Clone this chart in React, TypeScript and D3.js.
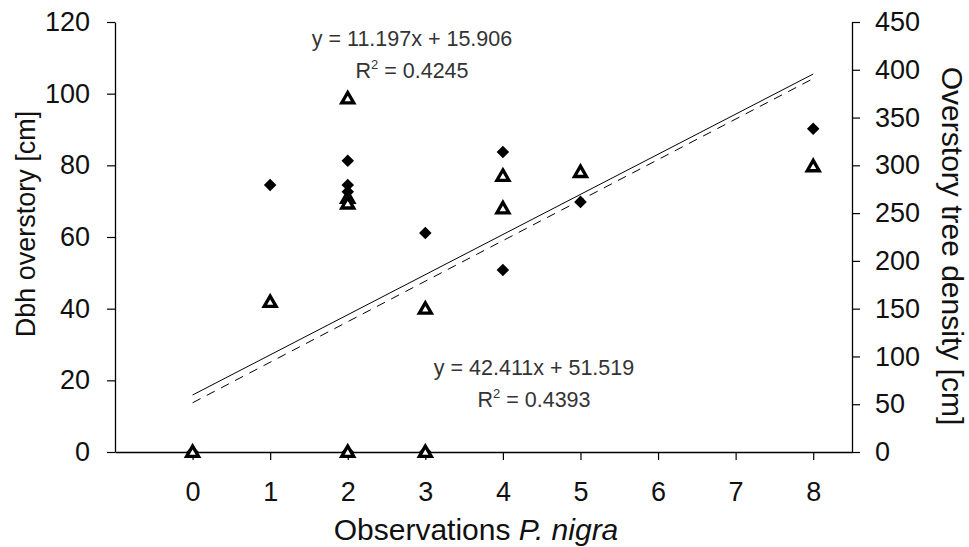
import * as React from 'react';
import { useEffect, useRef } from 'react';
import * as d3 from 'd3';

// observations of P. nigra (x) vs dbh (left axis) and tree density (right axis)
const dbhX = [0, 1, 2, 2, 2, 2, 3, 3, 4, 4, 5, 8];
const dbhY = [0, 74.5, 81.3, 74.5, 72.6, 0, 61.1, 0, 83.7, 50.8, 69.8, 90.2];
const densX = [0, 1, 2, 2, 2, 2, 3, 3, 4, 4, 5, 8];
const densY = [0, 157, 370, 266, 260, 0, 150, 0, 289, 255, 293, 299];

const xTicks = [0, 1, 2, 3, 4, 5, 6, 7, 8];
const leftTicks = [0, 20, 40, 60, 80, 100, 120];
const rightTicks = [0, 50, 100, 150, 200, 250, 300, 350, 400, 450];

const dbhFit = { slope: 11.197, intercept: 15.906, r2: '0.4245' };
const densFit = { slope: 42.411, intercept: 51.519, r2: '0.4393' };
const fitRange = [0, 8];

const W = 969;
const H = 547;
const FONT = 'Liberation Sans, Arial, sans-serif';

export default function App() {
  const ref = useRef<SVGSVGElement>(null);

  useEffect(() => {
    const svg = d3.select(ref.current);
    svg.selectAll('*').remove();

    const x = d3.scaleLinear().domain([-1, 8.5]).range([115, 852]);
    const yL = d3.scaleLinear().domain([0, 120]).range([452, 22]);
    const yR = d3.scaleLinear().domain([0, 450]).range([452, 22]);

    const styleAxis = (g: any) => {
      g.selectAll('path').attr('stroke', '#000').attr('stroke-width', 1.3);
      g.selectAll('line').attr('stroke', '#000').attr('stroke-width', 1.2);
      g.selectAll('text')
        .attr('font-family', FONT)
        .attr('font-size', 27)
        .attr('fill', '#111');
    };

    svg.append('g')
      .attr('transform', 'translate(0,452)')
      .call(d3.axisBottom(x).tickValues(xTicks).tickSize(8).tickSizeOuter(0).tickPadding(22).tickFormat(d3.format('d')))
      .call(styleAxis);

    svg.append('g')
      .attr('transform', 'translate(115,0)')
      .call(d3.axisLeft(yL).tickValues(leftTicks).tickSize(8).tickSizeOuter(0).tickPadding(17))
      .call(styleAxis);

    svg.append('g')
      .attr('transform', 'translate(852,0)')
      .call(d3.axisRight(yR).tickValues(rightTicks).tickSize(8).tickSizeOuter(0).tickPadding(15))
      .call(styleAxis);

    // trend lines
    const line = (fit: typeof dbhFit, y: d3.ScaleLinear<number, number>) =>
      d3.line<number>()
        .x((d) => x(d))
        .y((d) => y(fit.slope * d + fit.intercept))(fitRange);

    svg.append('path')
      .attr('d', line(dbhFit, yL))
      .attr('fill', 'none')
      .attr('stroke', '#000')
      .attr('stroke-width', 1);

    svg.append('path')
      .attr('d', line(densFit, yR))
      .attr('fill', 'none')
      .attr('stroke', '#000')
      .attr('stroke-width', 1)
      .attr('stroke-dasharray', '9,7');

    // diamonds
    const diamond = d3.symbol().type(d3.symbolDiamond2).size(100);
    svg.append('g')
      .selectAll('path')
      .data(dbhX.map((d, i) => [d, dbhY[i]]))
      .join('path')
      .attr('d', diamond)
      .attr('transform', (d) => `translate(${x(d[0])},${yL(d[1])})`)
      .attr('fill', '#000');

    // triangles
    const tri = d3.symbol().type(d3.symbolTriangle).size(62);
    svg.append('g')
      .selectAll('path')
      .data(densX.map((d, i) => [d, densY[i]]))
      .join('path')
      .attr('d', tri)
      .attr('transform', (d) => `translate(${x(d[0])},${yR(d[1]) + 1})`)
      .attr('fill', '#fff')
      .attr('stroke', '#000')
      .attr('stroke-width', 3.3)
      .attr('stroke-linejoin', 'miter');

    // equations
    const eq = (cx: number, cy: number, fit: typeof dbhFit) => {
      const g = svg.append('g')
        .attr('font-family', FONT)
        .attr('font-size', 21.5)
        .attr('fill', '#333')
        .attr('text-anchor', 'middle');
      g.append('text')
        .attr('x', cx)
        .attr('y', cy)
        .text(`y = ${fit.slope}x + ${fit.intercept}`);
      const t = g.append('text').attr('x', cx).attr('y', cy + 32);
      t.append('tspan').text('R');
      t.append('tspan').attr('font-size', 13).attr('dy', -9).text('2');
      t.append('tspan').attr('dy', 9).text(` = ${fit.r2}`);
    };
    eq(412, 46, dbhFit);
    eq(534, 375, densFit);

    // axis titles
    svg.append('text')
      .attr('transform', 'translate(35,224) rotate(-90)')
      .attr('text-anchor', 'middle')
      .attr('font-family', FONT)
      .attr('font-size', 27)
      .attr('fill', '#111')
      .text('Dbh overstory [cm]');

    svg.append('text')
      .attr('transform', 'translate(942,246) rotate(90)')
      .attr('text-anchor', 'middle')
      .attr('font-family', FONT)
      .attr('font-size', 30)
      .attr('fill', '#111')
      .text('Overstory tree density [cm]');

    const xt = svg.append('text')
      .attr('x', 476)
      .attr('y', 540)
      .attr('text-anchor', 'middle')
      .attr('font-family', FONT)
      .attr('font-size', 30)
      .attr('fill', '#111');
    xt.append('tspan').text('Observations ');
    xt.append('tspan').attr('font-style', 'italic').text('P. nigra');
  }, []);

  return (
    <svg
      ref={ref}
      width={W}
      height={H}
      style={{ position: 'absolute', left: 0, top: 0, background: '#fff' }}
    />
  );
}
